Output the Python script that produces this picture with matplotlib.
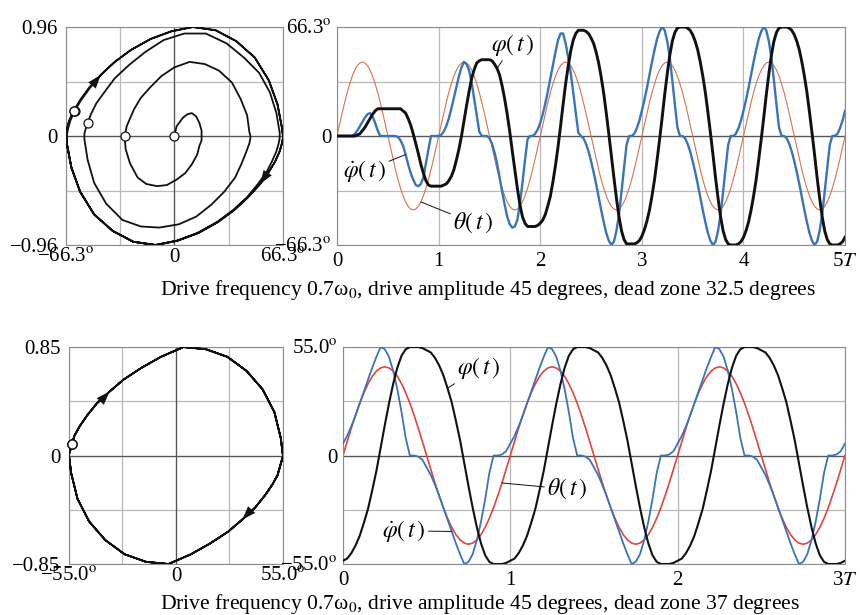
import numpy as np
import matplotlib
matplotlib.use("Agg")
from matplotlib import pyplot as plt

plt.rcParams["font.family"] = ["Liberation Serif", "DejaVu Serif"]
plt.rcParams["mathtext.fontset"] = "stix"

# ---- case 1: dead zone 32.5 deg, 5 drive periods, samples every T/40 ----
PHI_MAX_TOP = 66.3    # deg, full scale of phi
DPHI_MAX_TOP = 0.96   # full scale of phi-dot
t_top = np.linspace(0, 5, 201)

# drive angle theta(t), degrees
theta_top = [
    0, 7.0, 13.9, 20.4, 26.5, 31.8, 36.4, 40.1, 42.8, 44.4, 45.0, 44.4, 42.8, 40.1, 36.4, 31.8, 26.5, 20.4, 13.9, 7.0,
    0, -7.0, -13.9, -20.4, -26.5, -31.8, -36.4, -40.1, -42.8, -44.4, -45.0, -44.4, -42.8, -40.1, -36.4, -31.8, -26.5, -20.4, -13.9, -7.0,
    0, 7.0, 13.9, 20.4, 26.5, 31.8, 36.4, 40.1, 42.8, 44.4, 45.0, 44.4, 42.8, 40.1, 36.4, 31.8, 26.5, 20.4, 13.9, 7.0,
    0, -7.0, -13.9, -20.4, -26.5, -31.8, -36.4, -40.1, -42.8, -44.4, -45.0, -44.4, -42.8, -40.1, -36.4, -31.8, -26.5, -20.4, -13.9, -7.0,
    0, 7.0, 13.9, 20.4, 26.5, 31.8, 36.4, 40.1, 42.8, 44.4, 45.0, 44.4, 42.8, 40.1, 36.4, 31.8, 26.5, 20.4, 13.9, 7.0,
    0, -7.0, -13.9, -20.4, -26.5, -31.8, -36.4, -40.1, -42.8, -44.4, -45.0, -44.4, -42.8, -40.1, -36.4, -31.8, -26.5, -20.4, -13.9, -7.0,
    0, 7.0, 13.9, 20.4, 26.5, 31.8, 36.4, 40.1, 42.8, 44.4, 45.0, 44.4, 42.8, 40.1, 36.4, 31.8, 26.5, 20.4, 13.9, 7.0,
    0, -7.0, -13.9, -20.4, -26.5, -31.8, -36.4, -40.1, -42.8, -44.4, -45.0, -44.4, -42.8, -40.1, -36.4, -31.8, -26.5, -20.4, -13.9, -7.0,
    0, 7.0, 13.9, 20.4, 26.5, 31.8, 36.4, 40.1, 42.8, 44.4, 45.0, 44.4, 42.8, 40.1, 36.4, 31.8, 26.5, 20.4, 13.9, 7.0,
    0, -7.0, -13.9, -20.4, -26.5, -31.8, -36.4, -40.1, -42.8, -44.4, -45.0, -44.4, -42.8, -40.1, -36.4, -31.8, -26.5, -20.4, -13.9, -7.0,
    0]

# pendulum angle phi(t), fraction of 66.3 deg
phi_top = [
    0, 0, 0, 0, 0, 0, 0, 0.00, 0.01, 0.02, 0.05, 0.08, 0.12, 0.16, 0.20, 0.23, 0.25, 0.25, 0.25, 0.25,
    0.25, 0.25, 0.25, 0.25, 0.25, 0.25, 0.23, 0.21, 0.16, 0.10, 0.02, -0.07, -0.16, -0.26, -0.34, -0.41, -0.45, -0.46, -0.46, -0.46,
    -0.46, -0.46, -0.45, -0.44, -0.41, -0.37, -0.31, -0.22, -0.12, 0.00, 0.14, 0.28, 0.41, 0.53, 0.61, 0.67, 0.69, 0.70, 0.70, 0.70,
    0.70, 0.69, 0.66, 0.62, 0.56, 0.46, 0.34, 0.20, 0.04, -0.14, -0.31, -0.48, -0.63, -0.74, -0.80, -0.83, -0.83, -0.83, -0.83, -0.82,
    -0.80, -0.77, -0.72, -0.64, -0.55, -0.42, -0.27, -0.10, 0.09, 0.29, 0.48, 0.64, 0.78, 0.88, 0.94, 0.97, 0.97, 0.97, 0.96, 0.94,
    0.90, 0.85, 0.77, 0.67, 0.54, 0.39, 0.21, 0.02, -0.18, -0.38, -0.57, -0.74, -0.87, -0.95, -0.99, -0.99, -0.99, -0.99, -0.98, -0.96,
    -0.92, -0.86, -0.78, -0.68, -0.55, -0.40, -0.22, -0.03, 0.17, 0.38, 0.57, 0.74, 0.87, 0.95, 0.99, 1.00, 1.00, 1.00, 0.99, 0.97,
    0.93, 0.87, 0.79, 0.68, 0.55, 0.40, 0.22, 0.03, -0.17, -0.38, -0.57, -0.74, -0.87, -0.95, -0.99, -1.00, -1.00, -1.00, -0.99, -0.97,
    -0.93, -0.87, -0.79, -0.68, -0.55, -0.40, -0.22, -0.03, 0.17, 0.38, 0.57, 0.74, 0.87, 0.95, 0.99, 1.00, 1.00, 1.00, 0.99, 0.97,
    0.93, 0.87, 0.79, 0.68, 0.55, 0.40, 0.22, 0.03, -0.17, -0.38, -0.57, -0.74, -0.87, -0.95, -0.99, -1.00, -1.00, -1.00, -0.99, -0.97,
    -0.93]

# angular velocity phi-dot(t), fraction of 0.96
dphi_top = [
    0, 0, 0, 0, 0, 0, 0, 0.02, 0.05, 0.09, 0.13, 0.17, 0.20, 0.21, 0.18, 0.12, 0.05, 0, 0, 0,
    0, 0, 0, 0, -0.01, -0.04, -0.09, -0.17, -0.26, -0.34, -0.40, -0.45, -0.46, -0.44, -0.38, -0.25, -0.12, 0, 0, 0,
    0, 0.01, 0.04, 0.09, 0.16, 0.25, 0.35, 0.45, 0.55, 0.63, 0.68, 0.66, 0.60, 0.49, 0.34, 0.19, 0.04, 0, 0, 0,
    -0.02, -0.07, -0.15, -0.25, -0.38, -0.51, -0.63, -0.74, -0.81, -0.84, -0.83, -0.77, -0.62, -0.43, -0.22, -0.03, 0, 0, 0.02, 0.06,
    0.12, 0.20, 0.30, 0.41, 0.53, 0.65, 0.77, 0.88, 0.94, 0.94, 0.85, 0.72, 0.58, 0.40, 0.21, 0.03, 0, -0.02, -0.07, -0.14,
    -0.23, -0.33, -0.44, -0.56, -0.68, -0.79, -0.89, -0.96, -1.00, -0.97, -0.87, -0.72, -0.51, -0.29, -0.08, 0, 0, 0.02, 0.07, 0.14,
    0.23, 0.33, 0.44, 0.56, 0.68, 0.79, 0.89, 0.96, 1.00, 0.97, 0.87, 0.72, 0.51, 0.29, 0.08, 0, 0, -0.02, -0.07, -0.14,
    -0.23, -0.33, -0.44, -0.56, -0.68, -0.79, -0.89, -0.96, -1.00, -0.97, -0.87, -0.72, -0.51, -0.29, -0.08, 0, 0, 0.02, 0.07, 0.14,
    0.23, 0.33, 0.44, 0.56, 0.68, 0.79, 0.89, 0.96, 1.00, 0.97, 0.87, 0.72, 0.51, 0.29, 0.08, 0, 0, -0.02, -0.07, -0.14,
    -0.23, -0.33, -0.44, -0.56, -0.68, -0.79, -0.89, -0.96, -1.00, -0.97, -0.87, -0.72, -0.51, -0.29, -0.08, 0, 0, 0.02, 0.07, 0.14,
    0.23]

# ---- case 2: dead zone 37 deg, 3 drive periods ----
PHI_MAX_BOT = 55.0
DPHI_MAX_BOT = 0.85
t_bot = np.linspace(0, 3, 121)

theta_bot = [
    0, 7.0, 13.9, 20.4, 26.5, 31.8, 36.4, 40.1, 42.8, 44.4, 45.0, 44.4, 42.8, 40.1, 36.4, 31.8, 26.5, 20.4, 13.9, 7.0,
    0, -7.0, -13.9, -20.4, -26.5, -31.8, -36.4, -40.1, -42.8, -44.4, -45.0, -44.4, -42.8, -40.1, -36.4, -31.8, -26.5, -20.4, -13.9, -7.0,
    0, 7.0, 13.9, 20.4, 26.5, 31.8, 36.4, 40.1, 42.8, 44.4, 45.0, 44.4, 42.8, 40.1, 36.4, 31.8, 26.5, 20.4, 13.9, 7.0,
    0, -7.0, -13.9, -20.4, -26.5, -31.8, -36.4, -40.1, -42.8, -44.4, -45.0, -44.4, -42.8, -40.1, -36.4, -31.8, -26.5, -20.4, -13.9, -7.0,
    0, 7.0, 13.9, 20.4, 26.5, 31.8, 36.4, 40.1, 42.8, 44.4, 45.0, 44.4, 42.8, 40.1, 36.4, 31.8, 26.5, 20.4, 13.9, 7.0,
    0, -7.0, -13.9, -20.4, -26.5, -31.8, -36.4, -40.1, -42.8, -44.4, -45.0, -44.4, -42.8, -40.1, -36.4, -31.8, -26.5, -20.4, -13.9, -7.0,
    0]

phi_bot = [
    -0.97, -0.95, -0.90, -0.83, -0.74, -0.62, -0.49, -0.32, -0.14, 0.07, 0.28, 0.48, 0.66, 0.81, 0.92, 0.98, 1.00, 1.00, 1.00, 0.99,
    0.97, 0.95, 0.90, 0.83, 0.74, 0.62, 0.49, 0.32, 0.14, -0.07, -0.28, -0.48, -0.66, -0.81, -0.92, -0.98, -1.00, -1.00, -1.00, -0.99,
    -0.97, -0.95, -0.90, -0.83, -0.74, -0.62, -0.49, -0.32, -0.14, 0.07, 0.28, 0.48, 0.66, 0.81, 0.92, 0.98, 1.00, 1.00, 1.00, 0.99,
    0.97, 0.95, 0.90, 0.83, 0.74, 0.62, 0.49, 0.32, 0.14, -0.07, -0.28, -0.48, -0.66, -0.81, -0.92, -0.98, -1.00, -1.00, -1.00, -0.99,
    -0.97, -0.95, -0.90, -0.83, -0.74, -0.62, -0.49, -0.32, -0.14, 0.07, 0.28, 0.48, 0.66, 0.81, 0.92, 0.98, 1.00, 1.00, 1.00, 0.99,
    0.97, 0.95, 0.90, 0.83, 0.74, 0.62, 0.49, 0.32, 0.14, -0.07, -0.28, -0.48, -0.66, -0.81, -0.92, -0.98, -1.00, -1.00, -1.00, -0.99,
    -0.97]

dphi_bot = [
    0.11, 0.18, 0.27, 0.37, 0.48, 0.59, 0.70, 0.81, 0.91, 1.00, 0.98, 0.91, 0.78, 0.61, 0.40, 0.16, 0, 0, -0.01, -0.04,
    -0.11, -0.18, -0.27, -0.37, -0.48, -0.59, -0.70, -0.81, -0.91, -1.00, -0.98, -0.91, -0.78, -0.61, -0.40, -0.16, 0, 0, 0.01, 0.04,
    0.11, 0.18, 0.27, 0.37, 0.48, 0.59, 0.70, 0.81, 0.91, 1.00, 0.98, 0.91, 0.78, 0.61, 0.40, 0.16, 0, 0, -0.01, -0.04,
    -0.11, -0.18, -0.27, -0.37, -0.48, -0.59, -0.70, -0.81, -0.91, -1.00, -0.98, -0.91, -0.78, -0.61, -0.40, -0.16, 0, 0, 0.01, 0.04,
    0.11, 0.18, 0.27, 0.37, 0.48, 0.59, 0.70, 0.81, 0.91, 1.00, 0.98, 0.91, 0.78, 0.61, 0.40, 0.16, 0, 0, -0.01, -0.04,
    -0.11, -0.18, -0.27, -0.37, -0.48, -0.59, -0.70, -0.81, -0.91, -1.00, -0.98, -0.91, -0.78, -0.61, -0.40, -0.16, 0, 0, 0.01, 0.04,
    0.11]

captions = [
    "Drive frequency 0.7\u03c9$_0$, drive amplitude 45 degrees, dead zone 32.5 degrees",
    "Drive frequency 0.7\u03c9$_0$, drive amplitude 45 degrees, dead zone 37 degrees",
]

BLUE = "#3a74b8"
BLACK = "#111111"
GRID = "#b9b9b9"
ZERO = "#555555"
MINUS = "\u2212"


def deg(v):
    return v + "$^{\\rm o}$"


def frame(ax):
    for s in ax.spines.values():
        s.set_color("#8c8c8c")
        s.set_linewidth(0.8)
    ax.tick_params(length=0, labelsize=15)
    ax.grid(True, color=GRID, lw=0.9)


def phase(ax, phi, dphi, pmax, vmax, marks, arrows, lw):
    frame(ax)
    ax.axhline(0, color=ZERO, lw=0.9)
    ax.axvline(0, color=ZERO, lw=0.9)
    ax.plot(phi, dphi, color=BLACK, lw=lw, zorder=3)
    ax.plot(phi[marks], dphi[marks], "o", ms=6.5, mfc="w", mec=BLACK,
            mew=0.9, zorder=4, clip_on=False)
    for a, b in arrows:
        ax.annotate("", xy=(phi[b], dphi[b]), xytext=(phi[a], dphi[a]),
                    arrowprops=dict(arrowstyle="-|>,head_length=0.7,head_width=0.25",
                                    color=BLACK, lw=0, mutation_scale=14,
                                    shrinkA=0, shrinkB=0), zorder=5)
    ax.set_xlim(-pmax, pmax)
    ax.set_ylim(-vmax, vmax)
    p = f"{pmax:.1f}"
    v = f"{vmax:.2f}"
    ax.set_xticks([-pmax, -pmax / 2, 0, pmax / 2, pmax])
    ax.set_xticklabels([MINUS + deg(p), "", "0", "", deg(p)])
    ax.set_yticks([-vmax, -vmax / 2, 0, vmax / 2, vmax])
    ax.set_yticklabels([MINUS + v, "", "0", "", v])
    ax.tick_params(axis="x", pad=2)
    ax.tick_params(axis="y", pad=6)


def series(ax, t, theta, phi, dphi, pmax, vmax, n, red, red_lw, blue_lw, black_lw):
    frame(ax)
    ax.axhline(0, color=ZERO, lw=0.9)
    ax.plot(t, theta, color=red, lw=red_lw)
    ax.set_ylim(-pmax, pmax)
    p = f"{pmax:.1f}"
    ax.set_yticks([-pmax, -pmax / 2, 0, pmax / 2, pmax])
    ax.set_yticklabels([MINUS + deg(p), "", "0", "", deg(p)])
    ax.set_xticks(range(n + 1))
    ax.set_xticklabels([str(i) for i in range(n)] + [f"{n}$T$"])
    ax.tick_params(axis="x", pad=5)
    ax.tick_params(axis="y", pad=4)

    axv = ax.twinx()
    axv.plot(t, dphi, color=BLUE, lw=blue_lw)
    axv.set_ylim(-vmax, vmax)
    axv.axis("off")

    axp = ax.twinx()
    axp.plot(t, phi, color=BLACK, lw=black_lw)
    axp.set_ylim(-pmax, pmax)
    axp.axis("off")
    ax.set_xlim(0, n)
    return axv, axp


def label(ax, text, xy, xytext):
    ax.annotate(text, xy=xy, xytext=xytext, ha="center", va="center",
                fontsize=17, zorder=6,
                arrowprops=dict(arrowstyle="-", color=BLACK, lw=0.7,
                                shrinkA=0, shrinkB=0))


fig = plt.figure(figsize=(8.6, 6.15), dpi=100)

ax_pt = fig.add_axes([0.0767, 0.6016, 0.2523, 0.3545])
ax_st = fig.add_axes([0.3919, 0.6016, 0.5907, 0.3545])
ax_pb = fig.add_axes([0.0802, 0.0829, 0.2488, 0.3528])
ax_sb = fig.add_axes([0.3988, 0.0829, 0.5837, 0.3528])

# case 1
phi1 = np.array(phi_top) * PHI_MAX_TOP
dphi1 = np.array(dphi_top) * DPHI_MAX_TOP
th1 = np.array(theta_top)
phase(ax_pt, phi1, dphi1, PHI_MAX_TOP, DPHI_MAX_TOP,
      [0, 40, 80, 120, 160, 200], [(161, 163), (180, 182)], 1.3)
v1, p1 = series(ax_st, t_top, th1, phi1, dphi1, PHI_MAX_TOP, DPHI_MAX_TOP, 5,
                "#d8714f", 0.8, 1.7, 2.1)
label(p1, r"$\varphi(\,t\,)$", (t_top[63], phi1[63]), (1.73, 55.4))
label(v1, r"$\dot{\varphi}(\,t\,)$", (t_top[27], dphi1[27]), (0.27, -0.31))
label(ax_st, r"$\theta(\,t\,)$", (t_top[33], th1[33]), (1.34, -52.9))

# case 2
phi2 = np.array(phi_bot) * PHI_MAX_BOT
dphi2 = np.array(dphi_bot) * DPHI_MAX_BOT
th2 = np.array(theta_bot)
phase(ax_pb, phi2, dphi2, PHI_MAX_BOT, DPHI_MAX_BOT,
      [0, 40, 80, 120], [(43, 45), (63, 65)], 1.3)
v2, p2 = series(ax_sb, t_bot, th2, phi2, dphi2, PHI_MAX_BOT, DPHI_MAX_BOT, 3,
                "#e0453e", 1.2, 1.3, 1.5)
label(p2, r"$\varphi(\,t\,)$", (t_bot[25], phi2[25]), (0.81, 44.4))
label(v2, r"$\dot{\varphi}(\,t\,)$", (t_bot[26], dphi2[26]), (0.365, -0.59))
label(ax_sb, r"$\theta(\,t\,)$", (t_bot[38], th2[38]), (1.34, -17.0))

fig.text(0.186, 0.521, captions[0], ha="left", va="baseline", fontsize=15.6)
fig.text(0.186, 0.010, captions[1], ha="left", va="baseline", fontsize=15.6)

fig.savefig("out.png", dpi=100)
